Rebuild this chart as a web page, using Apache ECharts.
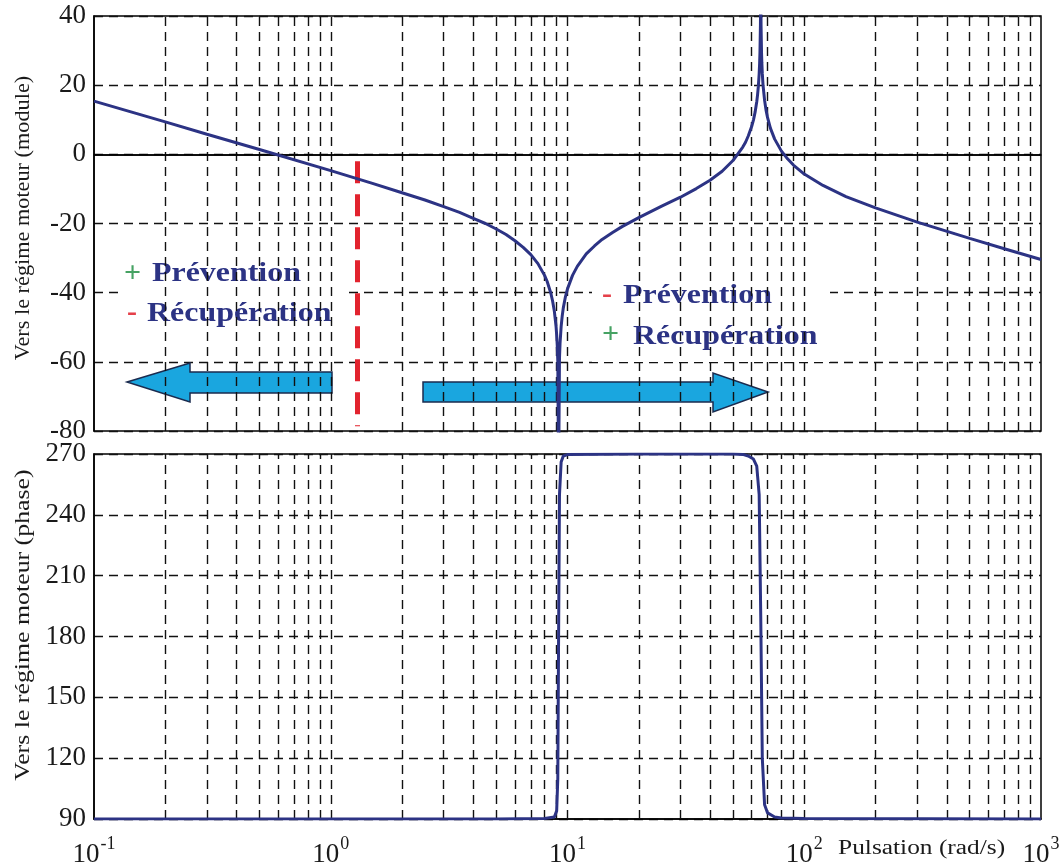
<!DOCTYPE html>
<html><head><meta charset="utf-8">
<script src="https://cdn.jsdelivr.net/npm/echarts@6/dist/echarts.min.js"></script>
<style>html,body{margin:0;padding:0;background:#fff}#c{width:1064px;height:868px}</style>
</head><body><div id="c"></div>
<script>
// ---- data ----
const freqMag = [0.1,0.2,0.3,0.5,1,1.5,2,2.5,3,3.5,4,4.5,5,5.5,6,6.5,7,7.5,8,8.2,8.5,8.65,8.8,8.95,9.0,9.05,9.1,9.17,9.25,9.3,9.4,9.5,9.6,9.8,10,10.5,11,12,13,14,15.5,17,20,25,30,35,40,45,50,55,56.5,58,60,61,62,63,63.5,64,64.5,64.8,65,65.3,65.5,65.7,66,66.2,66.5,66.8,67,68,69,70,72,75,80,85,90,100,120,150,200,300,500,700,1000];
const magDb = [15.4,9.4,5.8,1.4,-4.7,-8.4,-11.1,-13.2,-15.1,-16.8,-18.5,-20.0,-21.6,-23.2,-25.0,-26.9,-29.0,-31.6,-35.0,-36.7,-40.1,-42.4,-45.4,-49.9,-52.2,-55.2,-59.9,-95,-59.0,-54.7,-49.8,-46.7,-44.4,-41.2,-38.9,-35.0,-32.4,-28.8,-26.5,-24.6,-22.6,-20.9,-18.3,-15.0,-12.4,-9.9,-7.5,-4.9,-1.8,2.1,3.5,5.3,8.1,9.9,12.2,15.2,17.2,19.7,23.3,26.4,29.4,37.4,50,37.3,29.4,26.5,23.4,21.2,19.9,15.6,12.7,10.6,7.5,4.4,1.0,-1.3,-3.1,-5.7,-9.0,-12.2,-15.5,-19.6,-24.3,-27.3,-30.4];
const freqPh = [0.1,1,5,8,8.8,9.0,9.1,9.17,9.25,9.4,9.6,10,20,40,50,55,58,61,63,64.5,65.5,66.5,68,70,75,80,100,1000];
const phaseDeg = [90,90,90,90.3,91,94,110,180,250,266,269,269.7,270,270,270,269.8,269,267.5,264,250,190,120,97,93,91,90.5,90.2,90];
const gridX = [0.2,0.3,0.4,0.5,0.6,0.7,0.8,0.9,1,2,3,4,5,6,7,8,9,10,20,30,40,50,60,70,80,90,100,200,300,400,500,600,700,800,900];
const magTicks = {min:-80, max:40, step:20};
const phaseTicks = {min:90, max:270, step:30};
const xRange = {min:0.1, max:1000};
const limitFreq = 1.29;
const limitSpan = [-2, -78.6];

// ---- styles ----
const SERIF = 'Liberation Serif';
const NAVY = '#2c3384';
const GREEN = '#46a263';
const RED = '#e5404a';
const GRIDSTYLE = {type:[9,6], color:'#111', width:1.4};
const pairs = (xs, ys) => xs.map((x,i)=>[x, ys[i]]);

const chart = echarts.init(document.getElementById('c'));
const yLabel = {fontSize:27, fontFamily:SERIF, color:'#1a1a1a', margin:8};
const baseAxisLine = {show:true, lineStyle:{color:'#000', width:1.5}};

function word(x, y, text) {
  return {type:'text', z:4, x:x, y:y, scaleX:1.14,
    style:{text:text, fontSize:28, fontWeight:'bold', fontFamily:SERIF, fill:NAVY, verticalAlign:'middle'}};
}
function sign(x, y, text, color) {
  return {type:'text', z:4, x:x, y:y,
    style:{text:text, fontSize:30, fontWeight:'bold', fontFamily:SERIF, fill:color, verticalAlign:'middle'}};
}

const option = {
  animation:false,
  backgroundColor:'#fff',
  grid:[
    {left:94, right:23, top:16, height:415, show:true, borderColor:'#000', borderWidth:1.5, backgroundColor:'transparent'},
    {left:94, right:23, top:454, height:366, show:true, borderColor:'#000', borderWidth:1.5, backgroundColor:'transparent'}
  ],
  xAxis:[
    {type:'log', logBase:10, gridIndex:0, min:xRange.min, max:xRange.max, axisLine:baseAxisLine,
     axisTick:{show:false}, axisLabel:{show:false}, splitLine:{show:false}},
    {type:'log', logBase:10, gridIndex:1, min:xRange.min, max:xRange.max, axisLine:baseAxisLine,
     axisTick:{show:false}, splitLine:{show:false},
     axisLabel:{show:true, margin:16, showMinLabel:true, showMaxLabel:true,
       formatter:function(v){ const e=Math.round(Math.log10(v)); return '{b|10}{e|'+e+'}'; },
       rich:{b:{fontSize:27, fontFamily:SERIF, color:'#1a1a1a', verticalAlign:'bottom', lineHeight:33},
             e:{fontSize:18, fontFamily:SERIF, color:'#1a1a1a', verticalAlign:'top', padding:[0,0,0,1]}}}}
  ],
  yAxis:[
    {type:'value', gridIndex:0, min:magTicks.min, max:magTicks.max, interval:magTicks.step,
     axisLine:baseAxisLine, axisTick:{show:false}, axisLabel:yLabel, splitLine:{show:true, lineStyle:GRIDSTYLE}},
    {type:'value', gridIndex:1, min:phaseTicks.min, max:phaseTicks.max, interval:phaseTicks.step,
     axisLine:baseAxisLine, axisTick:{show:false}, axisLabel:yLabel, splitLine:{show:true, lineStyle:GRIDSTYLE}}
  ],
  series:[
    {type:'line', xAxisIndex:0, yAxisIndex:0, data:pairs(freqMag, magDb), z:1, silent:true,
     showSymbol:false, lineStyle:{opacity:0},
     markLine:{symbol:'none', silent:true, animation:false, label:{show:false}, lineStyle:GRIDSTYLE,
       data: gridX.map(v=>({xAxis:v})).concat([{yAxis:0, lineStyle:{type:'solid', color:'#000', width:1.5}}])}},
    {type:'line', xAxisIndex:0, yAxisIndex:0, data:pairs(freqMag, magDb), z:5, clip:true,
     showSymbol:false, symbol:'none', lineStyle:{color:NAVY, width:3},
     markLine:{symbol:'none', silent:true, animation:false, label:{show:false},
       data:[[{coord:[limitFreq, limitSpan[0]], lineStyle:{color:'#e2232e', width:5, type:[22,11]}},
              {coord:[limitFreq, limitSpan[1]]}]]}},
    {type:'line', xAxisIndex:1, yAxisIndex:1, data:pairs(freqPh, phaseDeg), z:1, silent:true,
     showSymbol:false, lineStyle:{opacity:0},
     markLine:{symbol:'none', silent:true, animation:false, label:{show:false}, lineStyle:GRIDSTYLE,
       data: gridX.map(v=>({xAxis:v}))}},
    {type:'line', xAxisIndex:1, yAxisIndex:1, data:pairs(freqPh, phaseDeg), z:5, clip:true,
     showSymbol:false, symbol:'none', lineStyle:{color:NAVY, width:3}}
  ],
  graphic:[
    // arrows (below grid lines)
    {type:'polygon', z:1, silent:true,
     shape:{points:[[127,382],[190,363],[190,372],[332,372],[332,393],[190,393],[190,402]]},
     style:{fill:'#1aa6df', stroke:'#1b2b4f', lineWidth:1.5}},
    {type:'polygon', z:1, silent:true,
     shape:{points:[[768,392],[713,373],[713,382],[423,382],[423,402],[713,402],[713,412]]},
     style:{fill:'#1aa6df', stroke:'#1b2b4f', lineWidth:1.5}},
    // white text backgrounds
    {type:'rect', z:3, silent:true, shape:{x:118, y:248, width:227, height:90}, style:{fill:'#fff'}},
    {type:'rect', z:3, silent:true, shape:{x:592, y:268, width:238, height:94}, style:{fill:'#fff'}},
    // left annotation
    sign(124, 274, '+', GREEN), word(152, 273.5, 'Prévention'),
    sign(127, 313, '-', RED), word(147, 313.5, 'Récupération'),
    // right annotation
    sign(602, 295, '-', RED), word(623, 295.5, 'Prévention'),
    sign(602, 335, '+', GREEN), word(633, 336.5, 'Récupération'),
    // axis titles
    {type:'text', z:4, x:23, y:218, rotation:Math.PI/2, scaleX:1.06,
     style:{text:'Vers le régime moteur (module)', fontSize:21, fontFamily:SERIF, fill:'#1a1a1a', align:'center', verticalAlign:'middle'}},
    {type:'text', z:4, x:23, y:625, rotation:Math.PI/2, scaleX:1.23,
     style:{text:'Vers le régime moteur (phase)', fontSize:21, fontFamily:SERIF, fill:'#1a1a1a', align:'center', verticalAlign:'middle'}},
    {type:'text', z:4, x:838, y:849, scaleX:1.27,
     style:{text:'Pulsation (rad/s)', fontSize:20, fontFamily:SERIF, fill:'#1a1a1a', align:'left', verticalAlign:'middle'}}
  ]
};
chart.setOption(option);
</script></body></html>
